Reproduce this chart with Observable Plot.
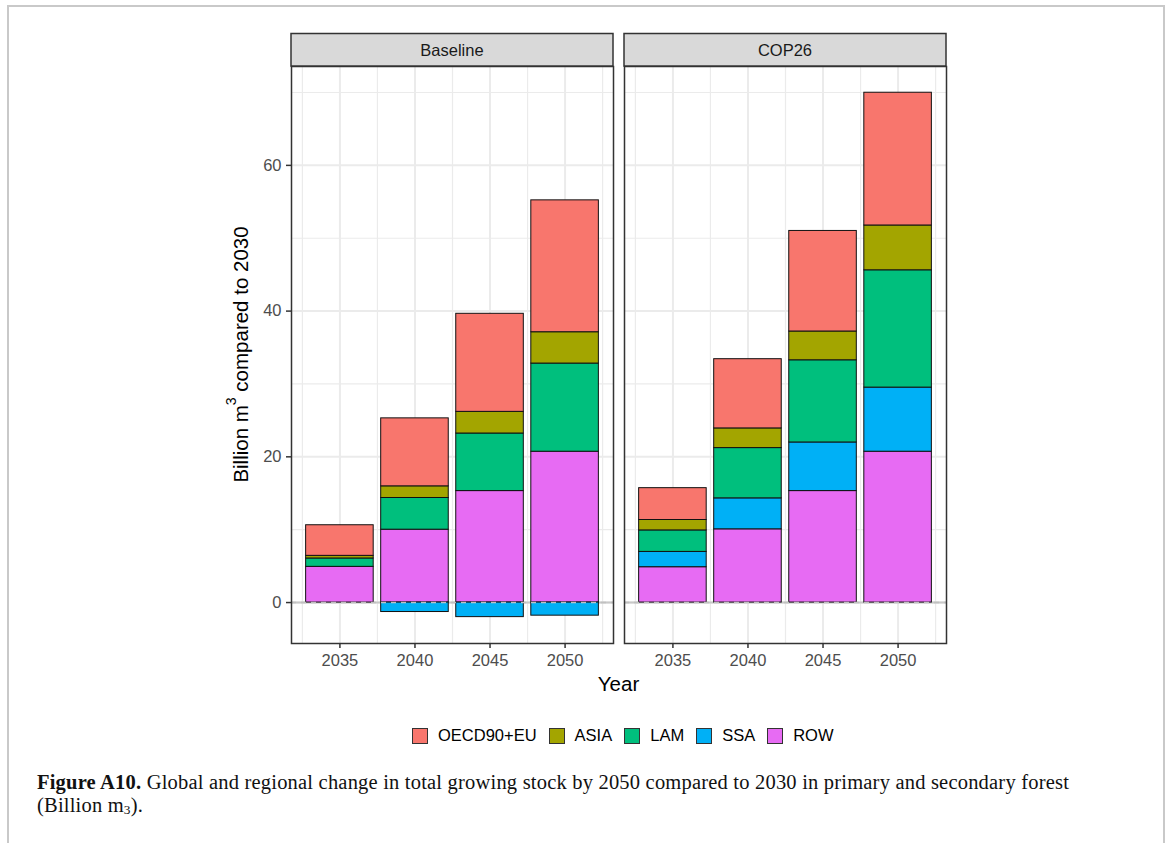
<!DOCTYPE html>
<html>
<head>
<meta charset="utf-8">
<script src="https://cdn.jsdelivr.net/npm/d3@7"></script>
<script src="https://cdn.jsdelivr.net/npm/@observablehq/plot@0.6"></script>
<style>
  html, body { margin: 0; padding: 0; background: #fff; }
  #page { position: relative; width: 1172px; height: 843px; overflow: hidden; background: #fff; font-family: "Liberation Sans", Arial, Helvetica, sans-serif; }
  #border { position: absolute; left: 7px; top: 5px; width: 1154px; height: 900px; border: 2px solid #c9c9c9; border-bottom: none; }
  #chart { position: absolute; left: 0; top: 0; }
  #legend { position: absolute; left: 412px; top: 726px; display: flex; align-items: center; font-size: 16.5px; color: #000; }
  .item { display: flex; align-items: center; margin-right: 12px; }
  .key { width: 14px; height: 14px; border: 1px solid #333; margin-right: 10px; box-sizing: content-box; }
  #caption { position: absolute; left: 37px; top: 771px; width: 1120px; font-family: "Liberation Serif", "DejaVu Serif", serif; font-size: 20.5px; letter-spacing: 0.2px; line-height: 23px; color: #111; }
  #caption b { font-weight: bold; }
</style>
</head>
<body>
<div id="page">
  <div id="border"></div>
  <div id="chart"></div>
  <div id="legend"></div>
  <div id="caption"><b>Figure A10.</b> Global and regional change in total growing stock by 2050 compared to 2030 in primary and secondary forest<br>(Billion m<sub style="font-size:65%;vertical-align:-2px">3</sub>).</div>
</div>
<script>
// ---- data ----
const scenarios = ["Baseline", "COP26"];
const years = [2035, 2040, 2045, 2050];
const legendRegions = ["OECD90+EU", "ASIA", "LAM", "SSA", "ROW"];
const stackOrder = ["ROW", "SSA", "LAM", "ASIA", "OECD90+EU"];
const regionColors = ["#F8766D", "#A3A500", "#00BF7D", "#00B0F6", "#E76BF3"];
const yTicks = [0, 20, 40, 60];
const yMinor = [10, 30, 50, 70];
const xMinor = [2032.5, 2037.5, 2042.5, 2047.5, 2052.5];

const baselineROW  = [4.9, 10.0, 15.3, 20.7];
const baselineSSA  = [0, -1.3, -2.0, -1.8];
const baselineLAM  = [1.15, 4.35, 7.9, 12.1];
const baselineASIA = [0.36, 1.6, 2.97, 4.3];
const baselineOECD = [4.2, 9.33, 13.46, 18.1];

const cop26ROW  = [4.85, 10.05, 15.3, 20.7];
const cop26SSA  = [2.1, 4.25, 6.67, 8.8];
const cop26LAM  = [2.95, 6.9, 11.28, 16.1];
const cop26ASIA = [1.43, 2.7, 3.95, 6.15];
const cop26OECD = [4.37, 9.5, 13.8, 18.22];

const barWidth = 4.5; // years

const series = {
  Baseline: {"ROW": baselineROW, "SSA": baselineSSA, "LAM": baselineLAM, "ASIA": baselineASIA, "OECD90+EU": baselineOECD},
  COP26: {"ROW": cop26ROW, "SSA": cop26SSA, "LAM": cop26LAM, "ASIA": cop26ASIA, "OECD90+EU": cop26OECD}
};
const data = [];
for (const s of scenarios) for (const r of stackOrder) years.forEach((yr, i) => data.push({scenario: s, region: r, year: yr, value: series[s][r][i]}));

const gridColor = "#ebebeb";
const plot = Plot.plot({
  width: 1172,
  height: 700,
  marginLeft: 291,
  marginRight: 226,
  marginTop: 66,
  marginBottom: 57,
  style: {fontFamily: "'Liberation Sans', Arial, Helvetica, sans-serif", fontSize: "16.5px", background: "transparent", overflow: "visible"},
  fx: {domain: scenarios, paddingInner: 0.034, paddingOuter: 0, axis: null, label: null},
  x: {domain: [2031.775, 2053.225], label: null},
  y: {domain: [-5.62, 73.57], label: null},
  color: {domain: legendRegions, range: regionColors},
  marks: [
    Plot.gridX(xMinor, {stroke: gridColor, strokeOpacity: 1, strokeWidth: 1.2}),
    Plot.gridY(yMinor, {stroke: gridColor, strokeOpacity: 1, strokeWidth: 1.2}),
    Plot.gridX(years, {stroke: gridColor, strokeOpacity: 1, strokeWidth: 2}),
    Plot.gridY(yTicks, {stroke: gridColor, strokeOpacity: 1, strokeWidth: 2}),
    Plot.ruleY([0], {stroke: "#c8c8c8", strokeWidth: 2}),
    Plot.rectY(data, {
      fx: "scenario",
      x1: d => d.year - barWidth / 2,
      x2: d => d.year + barWidth / 2,
      y: "value",
      fill: "region",
      stroke: "#111",
      strokeWidth: 1
    }),
    Plot.ruleY([0], {stroke: "#c0c0c0", strokeWidth: 1.6, strokeDasharray: "5,5"}),
    Plot.frame({stroke: "#333", strokeWidth: 1.5}),
    Plot.axisY({ticks: yTicks, tickSize: 5, tickPadding: 5, label: null, stroke: "#333", strokeWidth: 1.5, fill: "#4d4d4d", fontSize: 16.5}),
    Plot.axisX({ticks: years, tickFormat: "d", tickSize: 5, tickPadding: 6, label: null, stroke: "#333", strokeWidth: 1.5, fill: "#4d4d4d", fontSize: 16.5})
  ]
});
document.getElementById("chart").appendChild(plot);

// facet strips
const svg = d3.select(plot);
const fx = plot.scale("fx");
const bw = fx.bandwidth;
const strips = svg.append("g");
for (const s of scenarios) {
  const x0 = fx.apply(s);
  strips.append("rect").attr("x", x0).attr("y", 33.5).attr("width", bw).attr("height", 32.5)
    .attr("fill", "#d9d9d9").attr("stroke", "#333").attr("stroke-width", 1.5);
  strips.append("text").attr("x", x0 + bw / 2).attr("y", 50).attr("text-anchor", "middle")
    .attr("dominant-baseline", "central").attr("fill", "#1a1a1a").attr("font-size", 16.5).text(s);
}
// axis titles
const fxr = fx.range;
svg.append("text").attr("x", (fxr[0] + fxr[1]) / 2).attr("y", 683).attr("text-anchor", "middle")
  .attr("dominant-baseline", "central").attr("fill", "#000").attr("font-size", 20.5).text("Year");
const yl = svg.append("text").attr("transform", "translate(240,354.5) rotate(-90)").attr("text-anchor", "middle")
  .attr("dominant-baseline", "central").attr("fill", "#000").attr("font-size", 20.5);
yl.append("tspan").text("Billion m");
yl.append("tspan").attr("font-size", 14).attr("dy", -9).text("3");
yl.append("tspan").attr("dy", 9).text(" compared to 2030");

// legend
const legend = d3.select("#legend");
legendRegions.forEach((r, i) => {
  const it = legend.append("div").attr("class", "item");
  it.append("div").attr("class", "key").style("background", regionColors[i]);
  it.append("span").text(r);
});
</script>
</body>
</html>
